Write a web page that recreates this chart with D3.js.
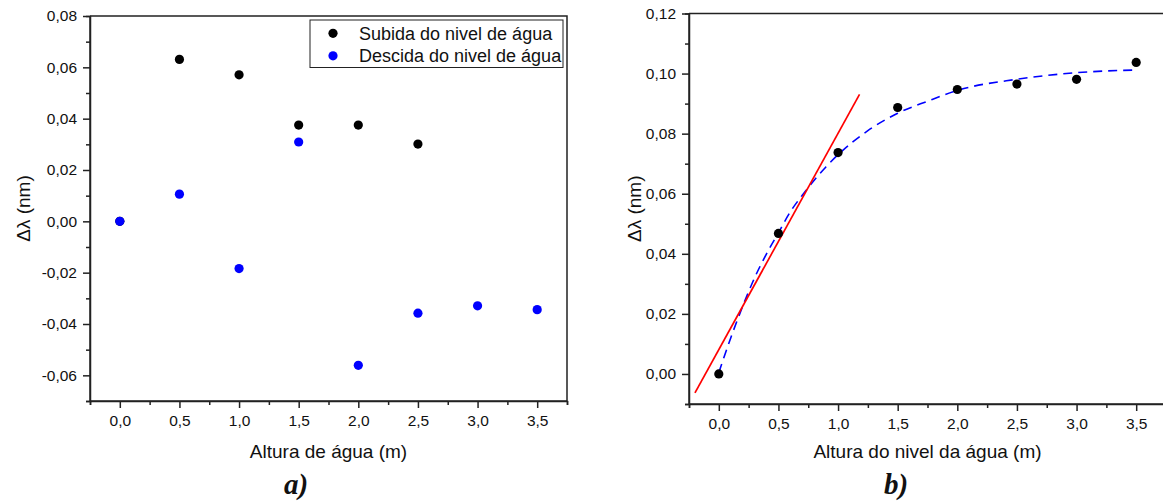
<!DOCTYPE html>
<html>
<head>
<meta charset="utf-8">
<script src="https://cdn.jsdelivr.net/npm/d3@7"></script>
<style>
  body { margin: 0; background: #fff; }
  svg { display: block; font-family: 'Liberation Sans', Arial, sans-serif; }
  .axis path, .axis line { stroke: #222; stroke-width: 1.5; }
  .axis text { font-size: 15.5px; fill: #111; }
  .frame { stroke: #222; stroke-width: 1.5; fill: none; }
  .axis-label { font-size: 19px; fill: #111; }
  .caption { font-family: 'Liberation Serif', 'DejaVu Serif', serif; font-weight: bold; font-style: italic; font-size: 29px; fill: #111; }
  .legend text { font-size: 18px; fill: #111; }
</style>
</head>
<body>
<div id="graph-container"></div>
<script>
// panel a) - rise and fall of the water level
const heightsUp = [0, 0.5, 1.0, 1.5, 2.0, 2.5];
const shiftUp = [0, 0.0631, 0.0571, 0.0375, 0.0375, 0.0301];
const heightsDown = [0, 0.5, 1.0, 1.5, 2.0, 2.5, 3.0, 3.5];
const shiftDown = [0, 0.0106, -0.0184, 0.0309, -0.0561, -0.0358, -0.0329, -0.0344];
const legendLabels = ['Subida do nivel de água', 'Descida do nivel de água'];

// panel b) - measured points, fitted curve (dashed) and linear fit (red)
const heightsB = [0, 0.5, 1.0, 1.5, 2.0, 2.5, 3.0, 3.5];
const shiftB = [0, 0.0468, 0.0737, 0.0887, 0.0947, 0.0965, 0.0981, 0.1037];
const curveX = [0, 0.1, 0.2, 0.3, 0.4, 0.5, 0.6, 0.7, 0.8, 0.9, 1.0, 1.25, 1.5, 1.75, 2.0, 2.5, 3.0, 3.5];
const curveY = [0.0005, 0.012, 0.0225, 0.032, 0.040, 0.047, 0.054, 0.0595, 0.0645, 0.069, 0.073, 0.081, 0.0868, 0.0908, 0.0944, 0.0981, 0.1003, 0.1012];
const lineX = [-0.2, 1.18];
const lineY = [-0.0063, 0.0931];

// tick labels
const xMajor = [0, 0.5, 1.0, 1.5, 2.0, 2.5, 3.0, 3.5];
const xMinor = [-0.25, 0.25, 0.75, 1.25, 1.75, 2.25, 2.75, 3.25, 3.75];
const yMajorA = [-0.06, -0.04, -0.02, 0, 0.02, 0.04, 0.06, 0.08];
const yMinorA = [-0.07, -0.05, -0.03, -0.01, 0.01, 0.03, 0.05, 0.07];
const yMajorB = [0, 0.02, 0.04, 0.06, 0.08, 0.10, 0.12];
const yMinorB = [-0.01, 0.01, 0.03, 0.05, 0.07, 0.09, 0.11];

const W = 1163, H = 503;
const locale = d3.formatLocale({ decimal: ',', thousands: '.', grouping: [3], currency: ['', ''], minus: '-' });
const fmtX = locale.format('.1f');
const fmtY = locale.format('.2f');

const svg = d3.select('#graph-container')
              .append('svg')
              .attr('width', W)
              .attr('height', H);

function panel(opts) {
  const x = d3.scaleLinear().domain([-0.25, 3.75]).range([opts.left, opts.right]);
  const y = d3.scaleLinear().domain(opts.yDomain).range([opts.bottom, opts.top]);
  const g = svg.append('g');

  // top / right frame
  g.append('path')
   .attr('class', 'frame')
   .attr('d', `M${opts.left},${opts.top}H${opts.right}V${opts.bottom}`);

  // minor ticks first, then major ticks with labels
  g.append('g').attr('class', 'axis')
   .attr('transform', `translate(0,${opts.bottom})`)
   .call(d3.axisBottom(x).tickValues(xMinor).tickSize(4).tickFormat(''));
  g.append('g').attr('class', 'axis')
   .attr('transform', `translate(0,${opts.bottom})`)
   .call(d3.axisBottom(x).tickValues(xMajor).tickSize(7).tickPadding(7).tickFormat(fmtX))
   .call(s => s.select('.domain').attr('d', `M${opts.left},0H${opts.right}`));

  g.append('g').attr('class', 'axis')
   .attr('transform', `translate(${opts.left},0)`)
   .call(d3.axisLeft(y).tickValues(opts.yMinor).tickSize(4).tickFormat(''));
  g.append('g').attr('class', 'axis')
   .attr('transform', `translate(${opts.left},0)`)
   .call(d3.axisLeft(y).tickValues(opts.yMajor).tickSize(7).tickPadding(6).tickFormat(fmtY))
   .call(s => s.select('.domain').attr('d', `M0,${opts.top}V${opts.bottom}`));

  g.selectAll('.domain').attr('fill', 'none');

  // axis titles
  g.append('text')
   .attr('class', 'axis-label')
   .attr('text-anchor', 'middle')
   .attr('x', (opts.left + opts.right) / 2)
   .attr('y', 458)
   .text(opts.xTitle);
  g.append('text')
   .attr('class', 'axis-label')
   .attr('text-anchor', 'middle')
   .attr('transform', `translate(${opts.yTitleX},${(opts.top + opts.bottom) / 2}) rotate(-90)`)
   .text('Δλ (nm)');

  g.append('text')
   .attr('class', 'caption')
   .attr('text-anchor', 'middle')
   .attr('x', opts.captionX)
   .attr('y', 494)
   .text(opts.caption);

  return { g: g, x: x, y: y };
}

function dots(p, xs, ys, color) {
  p.g.append('g')
     .selectAll('circle')
     .data(xs)
     .enter()
     .append('circle')
     .attr('cx', d => p.x(d))
     .attr('cy', (d, i) => p.y(ys[i]))
     .attr('r', 4.6)
     .attr('fill', color);
}

// ---- panel a)
const pa = panel({
  left: 90, right: 567, top: 16, bottom: 401,
  yDomain: [-0.07, 0.08], yMajor: yMajorA, yMinor: yMinorA,
  xTitle: 'Altura de água (m)', yTitleX: 30,
  caption: 'a)', captionX: 296
});
dots(pa, heightsUp, shiftUp, '#000');
dots(pa, heightsDown, shiftDown, '#0000ff');

const legend = pa.g.append('g').attr('class', 'legend');
legend.append('rect')
      .attr('x', 310)
      .attr('y', 20)
      .attr('width', 253)
      .attr('height', 47.5)
      .attr('fill', '#fff')
      .attr('stroke', '#222')
      .attr('stroke-width', 1);
legendLabels.forEach(function(label, i) {
  legend.append('circle')
        .attr('cx', 333)
        .attr('cy', 33.3 + i * 22.5)
        .attr('r', 4.6)
        .attr('fill', i === 0 ? '#000' : '#0000ff');
  legend.append('text')
        .attr('x', 359)
        .attr('y', 39.5 + i * 22.5)
        .text(label);
});

// ---- panel b)
const pb = panel({
  left: 689, right: 1166, top: 13.5, bottom: 404,
  yDomain: [-0.01, 0.12], yMajor: yMajorB, yMinor: yMinorB,
  xTitle: 'Altura do nivel da água (m)', yTitleX: 641,
  caption: 'b)', captionX: 896
});

pb.g.append('path')
    .datum(curveX)
    .attr('fill', 'none')
    .attr('stroke', '#0000ff')
    .attr('stroke-width', 1.6)
    .attr('stroke-dasharray', '9,6')
    .attr('d', d3.line().x(d => pb.x(d)).y((d, i) => pb.y(curveY[i])).curve(d3.curveMonotoneX));

pb.g.append('path')
    .datum(lineX)
    .attr('fill', 'none')
    .attr('stroke', '#ff0000')
    .attr('stroke-width', 1.7)
    .attr('d', d3.line().x(d => pb.x(d)).y((d, i) => pb.y(lineY[i])));

dots(pb, heightsB, shiftB, '#000');
</script>
</body>
</html>
